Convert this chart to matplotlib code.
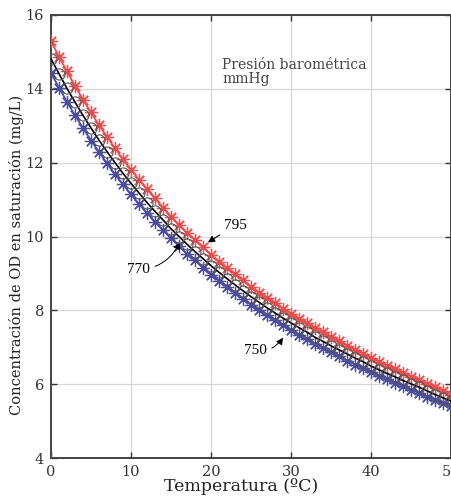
import numpy as np
import matplotlib
matplotlib.use('Agg')
import matplotlib.pyplot as plt

# temperatura (ºC), una muestra por grado
temp = list(range(0, 51))

# OD de saturación (mg/L) a 795 mmHg
od_795 = [15.29, 14.87, 14.47, 14.08, 13.71, 13.36, 13.02, 12.70, 12.39, 12.09,
          11.81, 11.54, 11.28, 11.03, 10.78, 10.54, 10.32, 10.10, 9.91, 9.71,
          9.51, 9.32, 9.14, 8.98, 8.81, 8.64, 8.48, 8.34, 8.19, 8.04,
          7.91, 7.77, 7.65, 7.51, 7.40, 7.27, 7.16, 7.04, 6.92, 6.82,
          6.71, 6.60, 6.50, 6.40, 6.30, 6.20, 6.11, 6.00, 5.91, 5.82, 5.72]
# a 770 mmHg
od_770 = [14.81, 14.41, 14.01, 13.64, 13.28, 12.94, 12.61, 12.30, 12.00, 11.71,
          11.44, 11.18, 10.92, 10.68, 10.45, 10.21, 10.00, 9.79, 9.59, 9.40,
          9.21, 9.03, 8.86, 8.69, 8.53, 8.37, 8.22, 8.07, 7.93, 7.79,
          7.66, 7.53, 7.41, 7.27, 7.16, 7.04, 6.93, 6.82, 6.71, 6.61,
          6.49, 6.39, 6.29, 6.20, 6.10, 6.01, 5.92, 5.82, 5.72, 5.63, 5.54]
# a 750 mmHg
od_750 = [14.43, 14.03, 13.65, 13.28, 12.94, 12.60, 12.29, 11.98, 11.68, 11.41,
          11.14, 10.88, 10.64, 10.40, 10.17, 9.95, 9.74, 9.53, 9.35, 9.16,
          8.97, 8.79, 8.62, 8.47, 8.31, 8.15, 8.00, 7.87, 7.73, 7.59,
          7.46, 7.33, 7.21, 7.09, 6.98, 6.86, 6.75, 6.64, 6.53, 6.43,
          6.33, 6.23, 6.13, 6.04, 5.94, 5.85, 5.76, 5.66, 5.58, 5.49, 5.40]

xticks = [0, 10, 20, 30, 40, 50]
yticks = [4, 6, 8, 10, 12, 14, 16]

fig = plt.figure(figsize=(4.52, 4.99), dpi=100)
ax = fig.add_axes([51/452, 41/499, 400/452, 443/499])

star = (8, 2, 0)  # asterisco tipo MATLAB
ax.plot(temp, od_795, color='#f24848', lw=1.3, marker=star, ms=9.5, mew=0.9, zorder=3)
ax.plot(temp, od_750, color='#4a4aaa', lw=1.3, marker=star, ms=9.5, mew=0.9, zorder=3)
ax.plot(temp, od_770, color='black', lw=1.2, marker='o', ms=8, mfc='none',
        mec='#555555', mew=0.8, zorder=4)

ax.set_xlim(0, 50)
ax.set_ylim(4, 16)
ax.set_xticks(xticks)
ax.set_yticks(yticks)
ax.grid(True, color='#d8d8d8', lw=0.9)
ax.set_axisbelow(True)
ax.tick_params(direction='in', length=4, width=1, colors='#333333',
               top=True, right=True, labelsize=10.5, pad=5)
for lab in ax.get_xticklabels() + ax.get_yticklabels():
    lab.set_family('DejaVu Serif')
for s in ax.spines.values():
    s.set_color('#444444')
    s.set_linewidth(1.4)

ax.set_xlabel('Temperatura (ºC)', family='DejaVu Serif', fontsize=12.5,
              color='#222222')
ax.set_ylabel('Concentración de OD en saturación (mg/L)', family='DejaVu Serif',
              fontsize=10.5, color='#222222')
ax.xaxis.set_label_coords(0.475, -0.046)
ax.yaxis.set_label_coords(-0.068, 0.458)

ax.text(21.4, 14.84, 'Presión barométrica\nmmHg', family='DejaVu Serif',
        fontsize=10, color='#444444', va='top', ha='left', linespacing=1.0)

tfont = dict(family='Liberation Serif', fontsize=11, color='black')
ax.annotate('795', xy=(19.6, 9.84), xytext=(23.0, 10.3), ha='center', va='center',
            arrowprops=dict(arrowstyle='-|>', color='black', lw=0.8,
                            mutation_scale=10, shrinkA=1, shrinkB=0), **tfont)
ax.annotate('770', xy=(16.1, 9.84), xytext=(10.9, 9.1), ha='center', va='center',
            arrowprops=dict(arrowstyle='-|>', color='black', lw=0.7,
                            mutation_scale=10, shrinkA=2, shrinkB=0,
                            connectionstyle='arc3,rad=0.3'), **tfont)
ax.annotate('750', xy=(29.0, 7.26), xytext=(25.5, 6.9), ha='center', va='center',
            arrowprops=dict(arrowstyle='-|>', color='black', lw=0.7,
                            mutation_scale=10, shrinkA=2, shrinkB=0,
                            connectionstyle='arc3,rad=0.3'), **tfont)

fig.savefig('out.png', dpi=100)
